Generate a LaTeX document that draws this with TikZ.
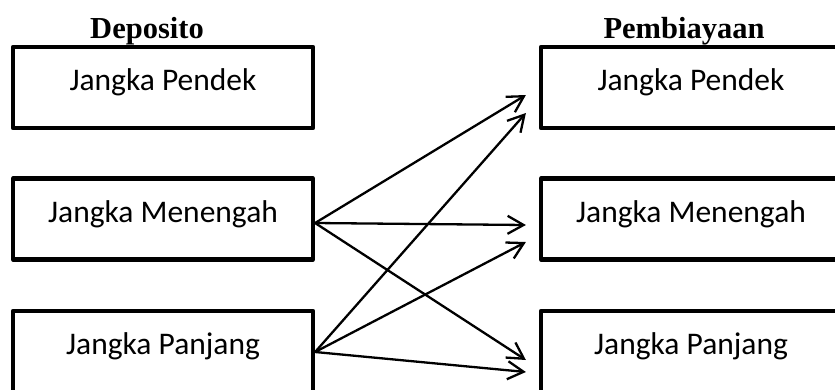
\documentclass[tikz,border=0pt]{standalone}
\usepackage{fontspec}
\setmainfont{Carlito}
\newfontfamily\headfont{Liberation Serif}
\usetikzlibrary{arrows.meta}
\tikzset{
  termbox/.style={draw, line width=4.2pt, line join=round, minimum width=300pt, minimum height=81pt,
    inner sep=0pt, text height=16pt, text depth=10pt, font=\fontsize{31.5}{36}\selectfont},
  heading/.style={anchor=base, inner sep=0pt, font=\headfont\bfseries\fontsize{30.5}{34}\selectfont},
  link/.style={line width=2.3pt, -{Straight Barb[length=16pt,width=18pt]}}
}
\begin{document}
\begin{tikzpicture}[x=1pt,y=-1pt]
\clip (0,0) rectangle (835,389);
\node[heading] (hd) at (147,38.5) {Deposito};
\node[heading] (hp) at (684,38.5) {Pembiayaan};
\node[termbox] (ld1) at (163,87.5) {Jangka Pendek};
\node[termbox] (ld2) at (163,219) {Jangka Menengah};
\node[termbox] (ld3) at (163,351.5) {Jangka Panjang};
\node[termbox] (rp1) at (691,87.5) {Jangka Pendek};
\node[termbox] (rp2) at (691,219) {Jangka Menengah};
\node[termbox] (rp3) at (691,351.5) {Jangka Panjang};
\draw[link] ([yshift=-4pt]ld2.east) -- ([xshift=-13pt,yshift=-7.5pt]rp1.west);
\draw[link] ([yshift=-0.5pt]ld3.east) -- ([xshift=-13pt,yshift=-25.5pt]rp1.west);
\draw[link] ([yshift=-4pt]ld2.east) -- ([xshift=-13pt,yshift=-6pt]rp2.west);
\draw[link] ([yshift=-0.5pt]ld3.east) -- ([xshift=-13pt,yshift=-23pt]rp2.west);
\draw[link] ([yshift=-4pt]ld2.east) -- ([xshift=-13pt,yshift=-8.5pt]rp3.west);
\draw[link] ([yshift=-0.5pt]ld3.east) -- ([xshift=-13pt,yshift=-20.5pt]rp3.west);
\end{tikzpicture}
\end{document}
